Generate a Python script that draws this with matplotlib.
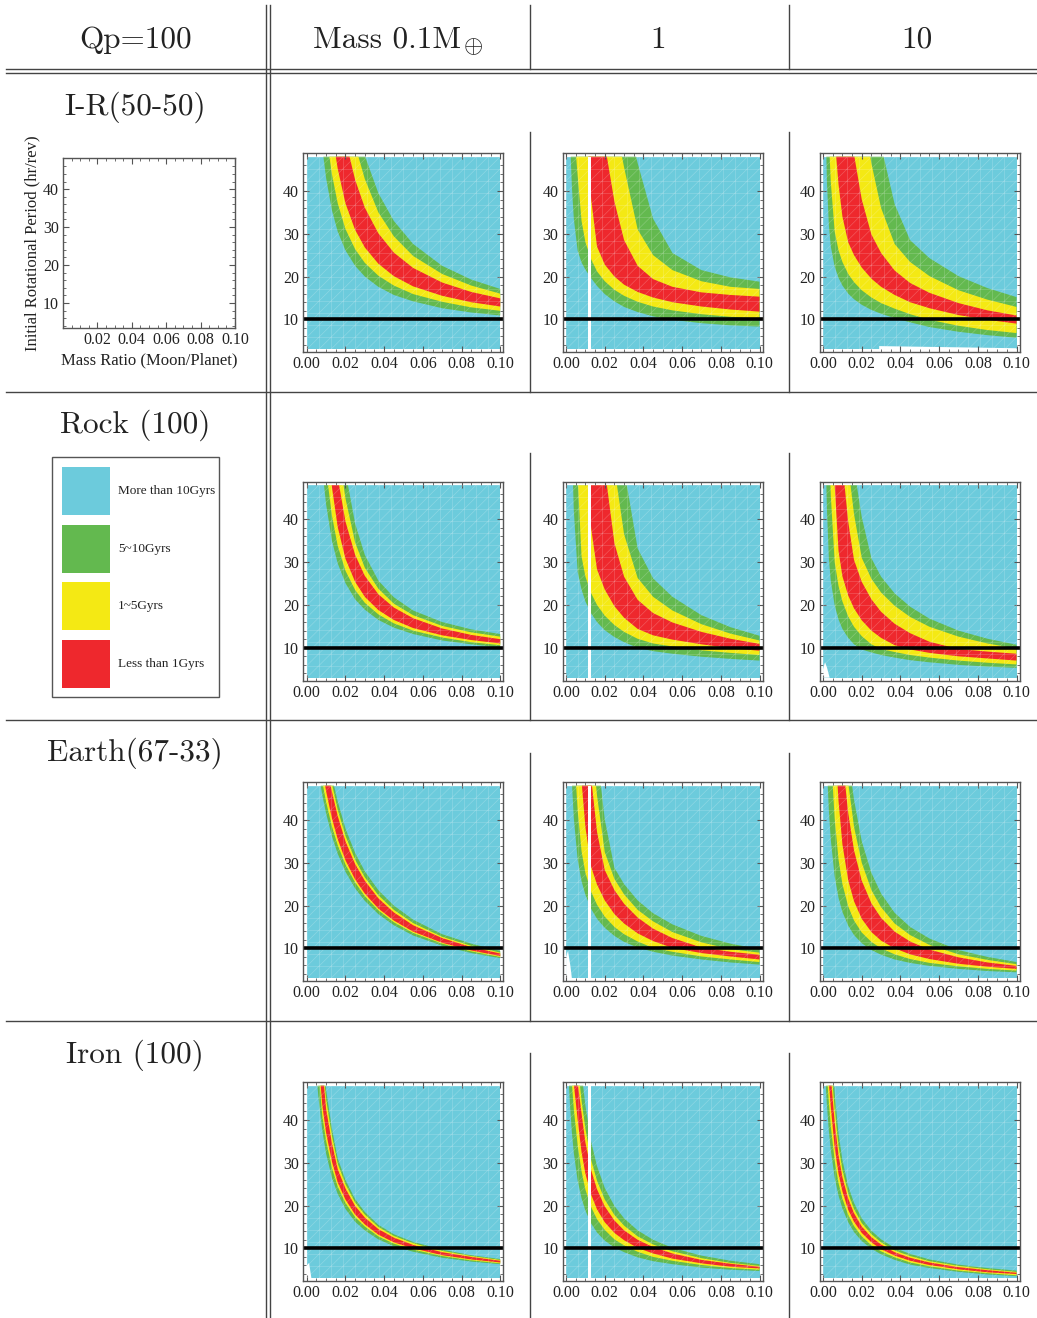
import numpy as np
import matplotlib.pyplot as plt
from matplotlib.patches import Rectangle, Polygon
from matplotlib.collections import LineCollection

plt.rcParams['font.family'] = 'Liberation Serif'
plt.rcParams['mathtext.fontset'] = 'cm'

W, H = 1037, 1318

CYAN = '#6ccbdc'
GREEN = '#63b94f'
YELLOW = '#f4e914'
RED = '#ee282d'
INK = '#222222'
RULE = '#444444'

CORNER_LABEL = 'Qp=100'
COL_LABELS = ['Mass 0.1M', '1', '10']
ROW_LABELS = ['I-R(50-50)', 'Rock (100)', 'Earth(67-33)', 'Iron (100)']
LEGEND_LABELS = ['More than 10Gyrs', '5~10Gyrs', '1~5Gyrs', 'Less than 1Gyrs']
LEGEND_COLORS = [CYAN, GREEN, YELLOW, RED]

Q_MIN, Q_MAX = 0.0, 0.1
P_MIN, P_MAX = 3.0, 48.0
P_REF = 10

# mass-ratio columns at which the band edges are tabulated
Q_COLS = [0.002, 0.003, 0.004, 0.006, 0.008, 0.010, 0.013, 0.016, 0.020, 0.025,
          0.030, 0.037, 0.045, 0.055, 0.070, 0.085, 0.100]

# each edge: [mass ratio where it leaves the top (P = 48), then the period
# (hr) at the last Q_COLS columns]; edges go from the lower green border to
# the upper green border: green|yellow|red|yellow|green
IR_01 = [
    [0.0086, 43.0, 35.5, 30.5, 26.1, 22.5, 20.0, 17.6, 15.7, 14.2, 12.6, 11.6, 10.9],
    [0.0117, 43.9, 37.1, 31.1, 26.4, 23.2, 20.2, 17.9, 15.9, 14.1, 12.8, 12.0],
    [0.0150, 45.2, 37.1, 30.9, 26.8, 23.0, 20.1, 17.7, 15.5, 14.0, 13.0],
    [0.0221, 42.6, 36.1, 30.1, 25.6, 22.0, 18.6, 16.4, 14.9],
    [0.0267, 42.8, 35.0, 29.4, 24.8, 20.6, 17.9, 16.0],
    [0.0302, 39.5, 33.0, 27.6, 22.5, 19.3, 17.1],
]
IR_1 = [
    [0.0024, 41.0, 33.5, 26.0, 23.3, 21.6, 19.6, 17.8, 15.9, 14.2, 12.9, 11.7, 10.7, 9.9, 9.1, 8.6, 8.3],
    [0.0052, 43.5, 33.0, 28.0, 24.0, 21.2, 18.9, 16.9, 15.5, 14.1, 13.0, 12.1, 11.2, 10.6, 10.2],
    [0.0116, 38.0, 27.0, 22.8, 20.0, 18.1, 16.4, 15.1, 14.0, 13.0, 12.3, 11.8],
    [0.0211, 37.5, 28.5, 22.5, 19.4, 17.6, 16.3, 15.7, 15.3],
    [0.0289, 45.5, 31.0, 25.0, 21.5, 18.9, 17.6, 17.1],
    [0.0362, 46.5, 33.5, 25.5, 21.5, 19.8, 18.8],
]
IR_10 = [
    [0.0017, 42.0, 32.0, 27.0, 22.3, 19.7, 17.9, 16.0, 14.7, 13.4, 12.2, 11.3, 10.3, 9.3, 8.2, 7.1, 6.3, 5.7],
    [0.0034, 42.0, 30.5, 26.1, 23.4, 20.6, 18.7, 16.8, 15.1, 13.8, 12.5, 11.2, 9.9, 8.5, 7.5, 6.8],
    [0.0068, 41.5, 34.0, 28.0, 25.0, 22.1, 19.5, 17.6, 15.7, 14.0, 12.6, 11.0, 9.9, 9.0],
    [0.0162, 38.0, 29.8, 25.5, 21.4, 18.5, 16.2, 13.8, 12.1, 10.9],
    [0.0244, 46.4, 36.0, 27.6, 23.4, 20.1, 16.8, 14.6, 12.9],
    [0.0313, 36.9, 28.5, 24.3, 20.1, 17.3, 15.2],
]
ROCK_01 = [
    [0.0089, 43.5, 35.0, 29.7, 25.1, 21.3, 18.9, 16.5, 14.7, 13.2, 11.7, 10.8, 10.1],
    [0.0110, 40.9, 33.8, 28.0, 23.5, 20.5, 17.8, 15.7, 14.0, 12.4, 11.3, 10.6],
    [0.0129, 47.6, 38.2, 30.8, 25.4, 21.9, 18.8, 16.5, 14.6, 12.9, 11.8, 11.0],
    [0.0167, 39.5, 31.7, 26.8, 22.5, 19.4, 16.9, 14.5, 13.0, 12.0],
    [0.0190, 44.9, 34.6, 28.7, 23.8, 20.3, 17.6, 15.1, 13.6, 12.6],
    [0.0213, 39.0, 31.7, 25.7, 21.8, 18.7, 16.0, 14.3, 13.2],
]
ROCK_1 = [
    [0.0036, 42.0, 27.7, 23.6, 20.8, 18.0, 16.0, 14.1, 12.5, 11.3, 10.0, 9.2, 8.6, 7.9, 7.4, 7.0],
    [0.0062, 31.3, 26.6, 22.7, 20.0, 17.5, 15.3, 13.7, 12.1, 11.0, 10.3, 9.4, 8.8, 8.3],
    [0.0113, 37.8, 28.3, 23.6, 19.7, 17.0, 14.4, 12.9, 11.9, 10.8, 9.9, 9.3],
    [0.0211, 34.4, 26.6, 21.2, 18.1, 15.9, 13.7, 12.1, 10.9],
    [0.0263, 36.5, 26.3, 21.9, 18.7, 15.5, 13.3, 11.7],
    [0.0314, 33.2, 26.2, 21.9, 17.6, 14.8, 12.8],
]
ROCK_10 = [
    [0.0017, 42.3, 30.8, 25.6, 19.9, 16.6, 14.4, 12.3, 10.8, 9.6, 8.9, 8.3, 7.7, 7.1, 6.6, 6.0, 5.6, 5.3],
    [0.0038, 45.5, 30.0, 24.4, 20.8, 17.3, 14.9, 12.7, 10.8, 9.7, 9.0, 8.3, 7.7, 7.0, 6.5, 6.1],
    [0.0060, 32.6, 26.7, 22.2, 19.2, 16.4, 14.0, 12.3, 10.6, 9.6, 8.8, 8.0, 7.5, 7.0],
    [0.0111, 39.4, 30.5, 25.4, 21.3, 18.4, 15.6, 13.4, 11.4, 9.7, 9.1, 8.6],
    [0.0142, 41.2, 31.0, 26.1, 22.9, 19.8, 17.2, 14.9, 12.6, 11.0, 9.8],
    [0.0174, 40.5, 30.9, 26.6, 22.7, 19.6, 16.8, 14.0, 12.1, 10.7],
]
EARTH_01 = [
    [0.0072, 45.9, 41.5, 36.2, 32.1, 27.9, 24.0, 21.1, 18.0, 15.4, 13.0, 10.6, 8.9, 7.7],
    [0.0084, 44.2, 38.5, 34.1, 29.6, 25.4, 22.2, 18.9, 16.1, 13.6, 11.1, 9.3, 8.0],
    [0.0095, 46.7, 40.4, 35.5, 30.6, 26.1, 22.8, 19.3, 16.5, 13.9, 11.3, 9.5, 8.2],
    [0.0124, 46.6, 40.9, 35.0, 29.7, 25.8, 21.7, 18.4, 15.4, 12.4, 10.3, 8.8],
    [0.0132, 42.4, 36.3, 30.7, 26.6, 22.4, 19.0, 15.9, 12.7, 10.6, 9.0],
    [0.0141, 44.3, 38.0, 32.3, 28.0, 23.6, 20.0, 16.7, 13.3, 11.1, 9.4],
]
EARTH_1 = [
    [0.0031, 40.4, 30.7, 25.7, 22.5, 19.2, 16.9, 14.8, 12.9, 11.5, 10.2, 9.2, 8.3, 7.4, 6.7, 6.2],
    [0.0052, 42.2, 32.7, 27.6, 23.2, 20.2, 17.4, 15.0, 13.3, 11.6, 10.1, 9.2, 8.1, 7.4, 6.8],
    [0.0082, 38.3, 29.0, 24.9, 21.2, 18.0, 15.8, 13.5, 11.7, 10.1, 8.9, 8.1, 7.4],
    [0.0134, 37.2, 28.3, 23.6, 20.4, 17.2, 14.6, 12.4, 10.2, 9.2, 8.5],
    [0.0155, 45.7, 32.5, 26.2, 22.6, 19.0, 16.3, 13.8, 11.4, 9.8, 9.0],
    [0.0180, 40.1, 28.8, 25.0, 21.2, 18.2, 15.6, 12.9, 11.1, 9.8],
]
EARTH_10 = [
    [0.0024, 42.2, 35.3, 26.8, 21.8, 18.5, 15.3, 13.1, 11.2, 9.6, 8.5, 7.4, 6.6, 5.9, 5.2, 4.7, 4.4],
    [0.0050, 40.3, 30.7, 25.0, 19.8, 16.5, 13.7, 11.5, 10.0, 8.6, 7.5, 6.6, 5.8, 5.2, 4.8],
    [0.0075, 44.4, 34.3, 25.9, 21.0, 16.9, 13.8, 11.8, 10.0, 8.6, 7.5, 6.4, 5.7, 5.2],
    [0.0115, 41.6, 32.9, 25.8, 20.5, 17.1, 13.9, 11.6, 9.7, 7.9, 6.7, 5.9],
    [0.0132, 38.4, 30.0, 23.6, 19.6, 15.8, 13.1, 10.8, 8.6, 7.3, 6.3],
    [0.0150, 44.7, 35.0, 27.6, 22.8, 18.3, 15.0, 12.3, 9.6, 8.0, 6.8],
]
IRON_01 = [
    [0.0055, 45.4, 37.6, 32.1, 26.5, 22.7, 19.2, 16.2, 14.2, 12.1, 10.5, 9.2, 7.8, 6.9, 6.3],
    [0.0067, 41.0, 35.1, 28.8, 24.4, 20.6, 17.3, 15.1, 12.8, 11.1, 9.7, 8.2, 7.2, 6.5],
    [0.0072, 43.5, 37.0, 30.3, 25.4, 21.4, 17.9, 15.6, 13.2, 11.4, 10.0, 8.4, 7.4, 6.7],
    [0.0089, 42.5, 34.6, 28.5, 24.0, 19.9, 17.2, 14.5, 12.5, 10.8, 9.1, 8.0, 7.1],
    [0.0093, 44.8, 36.3, 29.8, 25.0, 20.7, 17.9, 15.0, 12.9, 11.2, 9.4, 8.2, 7.3],
    [0.0098, 47.0, 38.0, 31.0, 26.0, 21.5, 18.5, 15.5, 13.3, 11.5, 9.7, 8.4, 7.5],
]
IRON_1 = [
    [0.0015, 43.7, 37.1, 32.3, 25.8, 21.7, 18.8, 15.8, 13.7, 11.8, 10.2, 9.1, 7.9, 7.0, 6.3, 5.5, 5.0, 4.7],
    [0.0031, 42.5, 34.0, 28.0, 23.7, 19.6, 16.8, 14.3, 12.1, 10.7, 9.2, 8.0, 7.1, 6.1, 5.4, 5.0],
    [0.0041, 40.0, 32.5, 27.4, 22.5, 19.1, 16.1, 13.6, 11.9, 10.1, 8.8, 7.6, 6.5, 5.7, 5.3],
    [0.0062, 41.5, 34.7, 28.2, 23.8, 19.8, 16.5, 14.2, 12.0, 10.3, 8.8, 7.3, 6.4, 5.7],
    [0.0072, 44.5, 37.9, 30.6, 25.8, 21.4, 17.8, 15.3, 12.8, 10.9, 9.3, 7.7, 6.6, 5.9],
    [0.0088, 43.3, 34.8, 29.2, 24.1, 19.9, 17.0, 14.2, 12.0, 10.1, 8.3, 7.1, 6.3],
]
IRON_10 = [
    [0.0014, 43.4, 37.4, 32.9, 26.5, 22.3, 19.3, 16.1, 13.8, 11.7, 9.9, 8.6, 7.3, 6.2, 5.4, 4.5, 3.9, 3.5],
    [0.0024, 44.0, 38.5, 30.5, 25.2, 21.6, 17.8, 15.2, 12.8, 10.7, 9.3, 7.9, 6.7, 5.8, 4.8, 4.2, 3.7],
    [0.0031, 43.0, 33.5, 27.4, 23.3, 19.0, 16.2, 13.6, 11.4, 9.8, 8.3, 7.1, 6.1, 5.1, 4.4, 4.0],
    [0.0044, 39.4, 31.7, 26.6, 21.6, 18.2, 15.1, 12.6, 10.9, 9.1, 7.8, 6.7, 5.6, 4.9, 4.3],
    [0.0050, 42.4, 33.9, 28.3, 22.8, 19.2, 15.9, 13.3, 11.4, 9.5, 8.2, 7.0, 5.9, 5.1, 4.5],
    [0.0058, 46.4, 36.8, 30.6, 24.5, 20.6, 17.0, 14.1, 12.1, 10.1, 8.7, 7.4, 6.2, 5.4, 4.8],
]

PANELS = [
    [IR_01, IR_1, IR_10],
    [ROCK_01, ROCK_1, ROCK_10],
    [EARTH_01, EARTH_1, EARTH_10],
    [IRON_01, IRON_1, IRON_10],
]

# unsampled (blank) corners along the lower edge of some panels, (q, P)
GAP_IR_10 = [(0.029, 3.0), (0.029, 3.75), (0.1, 3.25), (0.1, 3.0)]
GAP_ROCK_10 = [(0.0, 3.0), (0.0, 5.0), (0.001, 6.6), (0.002, 5.4), (0.0034, 3.0)]
GAP_EARTH_1 = [(0.0, 3.0), (0.0, 8.0), (0.001, 9.4), (0.0022, 6.0), (0.003, 3.0)]
GAP_IRON_01 = [(0.0, 3.0), (0.0, 6.0), (0.0012, 6.6), (0.0024, 3.0)]
GAPS = {(0, 2): GAP_IR_10, (1, 2): GAP_ROCK_10, (2, 1): GAP_EARTH_1, (3, 0): GAP_IRON_01}

# blank sampling column running through the 1 M_earth panels
STRIPE_Q = (0.0113, 0.0128)

COL_LEFT = [303.3, 562.6, 819.6]
ROW_TOP = [153.3, 481.7, 782.3, 1082.3]
PANEL_W, PANEL_H = 200, 199


def edge_points(row):
    qt, ps = row[0], row[1:]
    qs = Q_COLS[len(Q_COLS) - len(ps):]
    return [(qt, P_MAX)] + list(zip(qs, ps))


def style_axes(ax, xlim, ylim, xticks, size=11.5):
    ax.set_xlim(*xlim)
    ax.set_ylim(*ylim)
    ax.set_xticks(xticks)
    ax.set_xticklabels([f'{v:.2f}' for v in xticks])
    ax.set_xticks(np.arange(0, 0.1001, 0.005), minor=True)
    ax.set_yticks([10, 20, 30, 40])
    ax.set_yticks(np.arange(4, 48, 2), minor=True)
    ax.tick_params(which='both', direction='in', top=True, right=True,
                   color='#555555', labelcolor=INK)
    ax.tick_params(which='major', length=4, width=0.8, labelsize=size, pad=3)
    ax.tick_params(which='minor', length=2, width=0.6)
    for s in ax.spines.values():
        s.set_color('#555555')
        s.set_linewidth(1.0)


def mesh(ax, clip):
    # faint triangulated sampling mesh over the coloured region
    segs = []
    for k in range(17):
        q = Q_MIN + k * (Q_MAX - Q_MIN) / 16
        p = P_MIN + k * (P_MAX - P_MIN) / 16
        segs.append([(q, P_MIN), (q, P_MAX)])
        segs.append([(Q_MIN, p), (Q_MAX, p)])
    for k in range(-16, 17):
        q0 = Q_MIN + k * (Q_MAX - Q_MIN) / 16
        segs.append([(q0, P_MIN), (q0 + (Q_MAX - Q_MIN), P_MAX)])
    lc = LineCollection(segs, colors='white', linewidths=0.5, alpha=0.22)
    ax.add_collection(lc)
    lc.set_clip_path(clip)


fig = plt.figure(figsize=(W / 100, H / 100), dpi=100)

# page-level layer in pixel units for the table rules and labels
page = fig.add_axes([0, 0, 1, 1])
page.set_xlim(0, W)
page.set_ylim(H, 0)
page.axis('off')

for y in [68.5, 72.5, 391.5, 719.5, 1020.5]:
    page.plot([6, W], [y, y], color=RULE, lw=1.0)
for x in [265.5, 269.5]:
    page.plot([x, x], [5, H], color=RULE, lw=1.0)
for x in [529.5, 788.5]:
    page.plot([x, x], [5, 68.5], color=RULE, lw=1.0)
    for top, bottom in [(132, 391.5), (453, 719.5), (753, 1020.5), (1053, H)]:
        page.plot([x, x], [top, bottom], color=RULE, lw=1.0)

page.text(136, 40, CORNER_LABEL, family='cmr10', fontsize=22.5, color=INK,
          ha='center', va='center')
page.text(461, 40, COL_LABELS[0], family='cmr10', fontsize=22.5, color=INK,
          ha='right', va='center')
page.text(473, 47, r'$\oplus$', fontsize=18, color=INK, ha='center', va='center')
for x, lab in zip([658, 917], COL_LABELS[1:]):
    page.text(x, 40, lab, family='cmr10', fontsize=22.5, color=INK,
              ha='center', va='center')
for y, lab in zip([107, 425, 753, 1055], ROW_LABELS):
    page.text(135, y, lab, family='cmr10', fontsize=22.5, color=INK,
              ha='center', va='center')

# legend box
page.add_patch(Rectangle((52, 457), 167, 240, fill=False, ec='#555555', lw=1.0))
for k, (lab, col) in enumerate(zip(LEGEND_LABELS, LEGEND_COLORS)):
    top = 467 + k * 57.7
    page.add_patch(Rectangle((62, top), 48, 48, color=col, lw=0))
    page.text(118, top + 24, lab, fontsize=9.5, color=INK, va='center')

# empty axes carrying the shared axis titles
lab_ax = fig.add_axes([63 / W, 1 - 328 / H, 172 / W, 170 / H])
style_axes(lab_ax, (0, 0.1), (3.4, 48.2), [0.02, 0.04, 0.06, 0.08, 0.10], size=11.5)
lab_ax.set_ylabel('Initial Rotational Period (hr/rev)', fontsize=12, color=INK, labelpad=2)
lab_ax.set_xlabel('Mass Ratio (Moon/Planet)', fontsize=12, color=INK, labelpad=3)

for r in range(4):
    for c in range(3):
        left = COL_LEFT[c]
        top = ROW_TOP[r]
        ax = fig.add_axes([left / W, 1 - (top + PANEL_H) / H, PANEL_W / W, PANEL_H / H])
        style_axes(ax, (-0.0018, 0.1016), (2.3, 48.8), [0, 0.02, 0.04, 0.06, 0.08, 0.10])
        region = Rectangle((Q_MIN, P_MIN), Q_MAX - Q_MIN, P_MAX - P_MIN, color=CYAN, lw=0)
        ax.add_patch(region)
        edges = [edge_points(e) for e in PANELS[r][c]]
        for (i, j), col in zip([(0, 5), (1, 4), (2, 3)], [GREEN, YELLOW, RED]):
            verts = edges[j] + edges[i][::-1]
            ax.fill([v[0] for v in verts], [v[1] for v in verts], color=col, lw=0)
        mesh(ax, region)
        if (r, c) in GAPS:
            ax.add_patch(Polygon(GAPS[(r, c)], closed=True, color='white', lw=0))
        if c == 1:
            ax.add_patch(Rectangle((STRIPE_Q[0], P_MIN), STRIPE_Q[1] - STRIPE_Q[0],
                                   P_MAX - P_MIN, color='white', lw=0))
        ax.axhline(P_REF, color='black', lw=2.6)

fig.savefig('out.png', dpi=100)
